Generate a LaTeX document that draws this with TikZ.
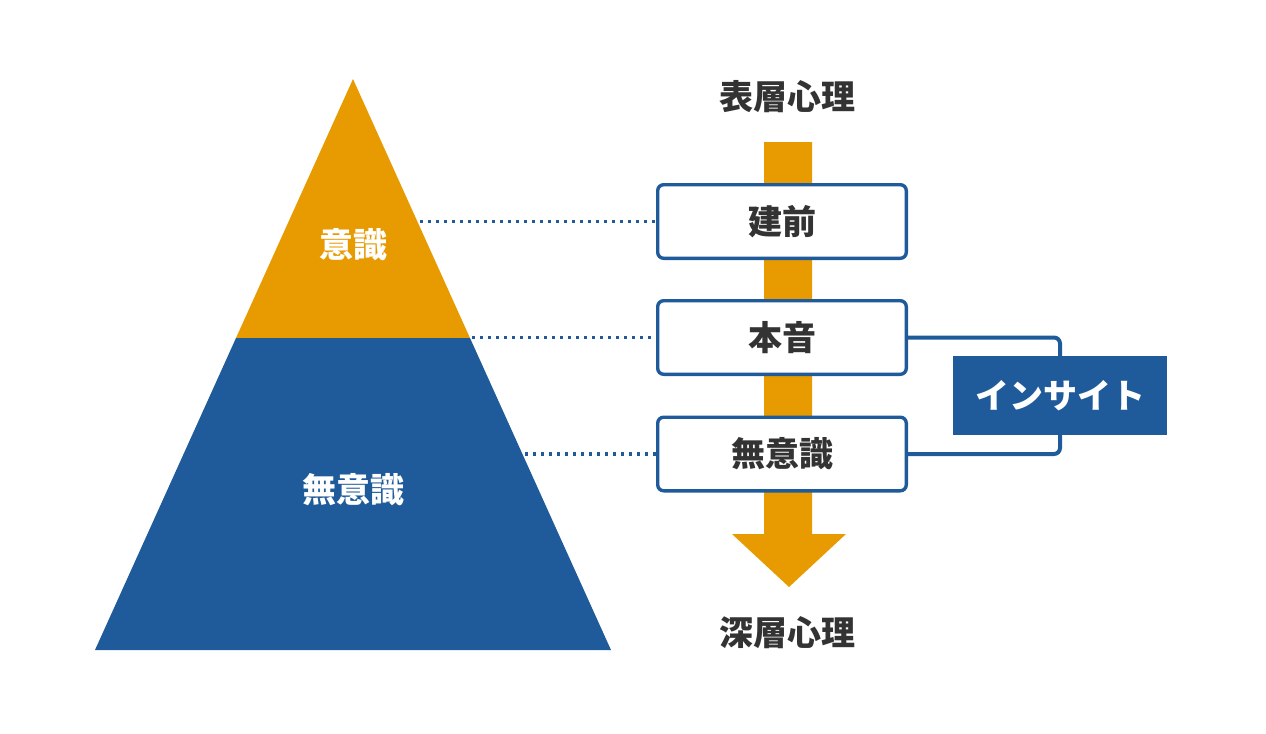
\documentclass[tikz,border=0pt]{standalone}
\usepackage{fontspec}
\usepackage{tikz}
\usetikzlibrary{calc}
\newfontfamily\jp{Noto Sans CJK JP}
\definecolor{pyrorange}{HTML}{E89B00}
\definecolor{pyrblue}{HTML}{1F5A9A}
\definecolor{txtgray}{HTML}{333333}
\tikzset{
  layerbox/.style={draw=pyrblue, line width=1.7pt, rounded corners=3pt, fill=white,
    minimum width=124.3pt, minimum height=36.8pt, text=txtgray,
    font=\jp\bfseries\fontsize{17}{20}\selectfont},
  dotline/.style={pyrblue, line width=1.6pt, dash pattern=on 1.6pt off 2.4pt},
  bracketline/.style={pyrblue, line width=2pt, rounded corners=3pt},
  label/.style={text=txtgray, font=\jp\bfseries\fontsize{17}{20}\selectfont},
  inlabel/.style={text=white, font=\jp\bfseries\fontsize{17}{20}\selectfont}
}

\begin{document}
\begin{tikzpicture}[x=0.5pt, y=-0.5pt]
			\useasboundingbox (0,0) rectangle (1266,734);
			\coordinate (apex) at (353,79);
			\coordinate (ml) at (236,338);
			\coordinate (mr) at (470,338);
			\coordinate (bl) at (95,650);
			\coordinate (br) at (611,650);
			\fill[pyrorange] (apex) -- (mr) -- (ml) -- cycle;
			\fill[pyrblue] (ml) -- (mr) -- (br) -- (bl) -- cycle;
			\node[inlabel] (ishiki) at (353,245) {意識};
			\node[inlabel] (muishikiP) at (353,490) {無意識};
			\fill[pyrorange] (764,142) -- (812,142) -- (812,534) -- (846,534)
				-- (789,587) -- (732,534) -- (764,534) -- cycle;
			\node[label] (hyoso) at (787,97) {表層心理};
			\node[label] (shinso) at (787,633) {深層心理};
			\node[layerbox] (tatemae) at (782,221.5) {建前};
			\node[layerbox] (honne) at (782,337.5) {本音};
			\node[layerbox] (muishiki) at (782,454) {無意識};
			\coordinate (e1) at (420,222);
			\coordinate (e2) at (472,338);
			\coordinate (e3) at (525,454);
			\draw[dotline] (e1 |- tatemae.west) -- (tatemae.west);
			\draw[dotline] (e2 |- honne.west) -- (honne.west);
			\draw[dotline] (e3 |- muishiki.west) -- (muishiki.west);
			\coordinate (brk) at (1060,395);
			\draw[bracketline] (honne.east) -| (brk) |- (muishiki.east);
			\node[inlabel, fill=pyrblue, minimum width=107pt, minimum height=39.5pt] (insight) at (1060,395.5) {インサイト};
		\end{tikzpicture}
\end{document}
